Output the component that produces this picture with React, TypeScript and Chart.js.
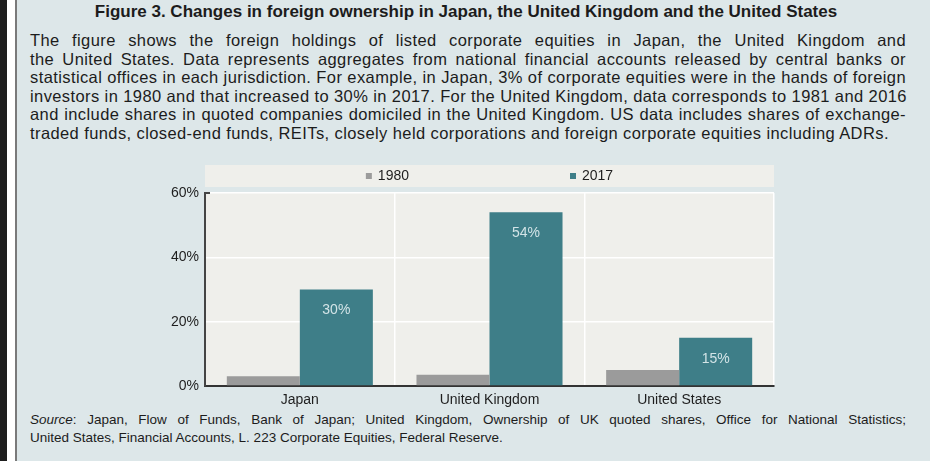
import React, { useEffect, useRef } from "react";
import { Chart, registerables } from "chart.js";

Chart.register(...registerables);

const categories = ["Japan", "United Kingdom", "United States"];
const series1980 = [3, 3.5, 5];
const series2017 = [30, 54, 15];
const seriesNames = ["1980", "2017"];
const yTicks = [0, 20, 40, 60];

const titleText =
  "Figure 3. Changes in foreign ownership in Japan, the United Kingdom and the United States";
const paragraphLines = [
  "The figure shows the foreign holdings of listed corporate equities in Japan, the United Kingdom and",
  "the United States. Data represents aggregates from national financial accounts released by central banks or",
  "statistical offices in each jurisdiction. For example, in Japan, 3% of corporate equities were in the hands of foreign",
  "investors in 1980 and that increased to 30% in 2017. For the United Kingdom, data corresponds to 1981 and 2016",
  "and include shares in quoted companies domiciled in the United Kingdom. US data includes shares of exchange-",
  "traded funds, closed-end funds, REITs, closely held corporations and foreign corporate equities including ADRs.",
];
const sourceLine1 =
  ": Japan, Flow of Funds, Bank of Japan; United Kingdom, Ownership of UK quoted shares, Office for National Statistics;";
const sourceLine2 =
  "United States, Financial Accounts, L. 223 Corporate Equities, Federal Reserve.";

const FONT = "'Liberation Sans', Arial, sans-serif";
const GREY = "#9b9b9b";
const TEAL = "#3e7e88";
const PANEL = "#dde7e9";
const PLOT_BG = "#efefeb";

const plotBgPlugin = {
  id: "plotBg",
  beforeDraw(chart: any) {
    const { ctx, chartArea } = chart;
    ctx.save();
    ctx.fillStyle = PLOT_BG;
    ctx.fillRect(chartArea.left, chartArea.top, chartArea.right - chartArea.left, chartArea.bottom - chartArea.top);
    ctx.fillRect(chartArea.left, chartArea.top - 28, chartArea.right - chartArea.left, 22);
    ctx.restore();
  },
  afterDraw(chart: any) {
    const { ctx, chartArea } = chart;
    ctx.save();
    ctx.font = `14px ${FONT}`;
    ctx.textBaseline = "middle";
    const colors = [GREY, TEAL];
    const box = 6;
    const gapText = 6;
    const gapItems = 161;
    const widths = seriesNames.map((n) => box + gapText + ctx.measureText(n).width);
    const total = widths[0] + gapItems + widths[1];
    const cx = (chartArea.left + chartArea.right) / 2;
    let x = cx - total / 2;
    const y = chartArea.top - 17;
    seriesNames.forEach((n, i) => {
      ctx.fillStyle = colors[i];
      ctx.fillRect(x, y - box / 2, box, box);
      ctx.fillStyle = "#1e1e1e";
      ctx.fillText(n, x + box + gapText, y);
      x += widths[i] + gapItems;
    });
    const yScale = chart.scales.y;
    const yTop = yScale.getPixelForValue(yTicks[yTicks.length - 1]);
    ctx.strokeStyle = "#444";
    ctx.lineWidth = 2;
    ctx.beginPath();
    ctx.moveTo(chartArea.left - 1, yTop);
    ctx.lineTo(chartArea.left + 5, yTop);
    ctx.stroke();
    ctx.restore();
  },
  afterDatasetsDraw(chart: any) {
    const { ctx } = chart;
    const meta = chart.getDatasetMeta(1);
    ctx.save();
    ctx.font = `14px ${FONT}`;
    ctx.fillStyle = "#d3e4e7";
    ctx.textAlign = "center";
    ctx.textBaseline = "middle";
    meta.data.forEach((bar: any, i: number) => {
      ctx.fillText(`${series2017[i]}%`, bar.x, bar.y + 21);
    });
    ctx.restore();
  },
};

function BarChart() {
  const ref = useRef<HTMLCanvasElement | null>(null);
  useEffect(() => {
    if (!ref.current) return;
    const chart = new Chart(ref.current, {
      type: "bar",
      data: {
        labels: categories,
        datasets: [
          { label: seriesNames[0], data: series1980, backgroundColor: GREY, categoryPercentage: 0.77, barPercentage: 1 },
          { label: seriesNames[1], data: series2017, backgroundColor: TEAL, categoryPercentage: 0.77, barPercentage: 1 },
        ],
      },
      options: {
        animation: false,
        responsive: false,
        devicePixelRatio: 1,
        layout: { padding: { top: 35, right: 16, left: 0, bottom: 0 } },
        plugins: { legend: { display: false }, tooltip: { enabled: false } },
        scales: {
          x: {
            grid: { color: "#ffffff", lineWidth: 1.5, drawTicks: false, offset: true },
            border: { color: "#333", width: 2 },
            ticks: { color: "#1e1e1e", font: { family: FONT, size: 14 }, padding: 6 },
            afterFit: (s: any) => { s.height = 22; },
          },
          y: {
            min: 0,
            max: 60,
            afterBuildTicks: (s: any) => { s.ticks = yTicks.map((v) => ({ value: v })); },
            grid: { color: "#ffffff", lineWidth: 1.5, drawTicks: false },
            border: { color: "#444", width: 2 },
            ticks: { color: "#1e1e1e", font: { family: FONT, size: 14 }, padding: 6, callback: (v: any) => `${v}%` },
            afterFit: (s: any) => { s.width = 55; },
          },
        },
      },
      plugins: [plotBgPlugin],
    });
    return () => chart.destroy();
  }, []);
  return (
    <canvas
      ref={ref}
      width={640}
      height={250}
      style={{ position: "absolute", left: 150, top: 158, width: 640, height: 250 }}
    />
  );
}

export default function App() {
  const lineStyle = (last: boolean): React.CSSProperties => ({
    whiteSpace: "nowrap",
    textAlign: "justify",
    textAlignLast: last ? "left" : "justify",
    height: 18.5,
    lineHeight: "18.5px",
  });
  return (
    <div
      style={{
        position: "absolute",
        left: 0,
        top: 0,
        width: 930,
        height: 461,
        background: PANEL,
        overflow: "hidden",
        fontFamily: FONT,
        color: "#1c1c1c",
      }}
    >
      <div style={{ position: "absolute", left: 0, top: 0, width: 7, height: 461, background: "#1e1e1e" }} />
      <div style={{ position: "absolute", left: 7, top: 0, width: 8, height: 461, background: "#ffffff" }} />
      <div style={{ position: "absolute", left: 15, top: 0, width: 2, height: 461, background: "#7a7a7a" }} />
      <div
        style={{
          position: "absolute",
          left: 17,
          width: 898,
          top: 2,
          textAlign: "center",
          fontWeight: "bold",
          fontSize: 17,
          lineHeight: "20px",
          whiteSpace: "nowrap",
        }}
      >
        {titleText}
      </div>
      <div style={{ position: "absolute", left: 30, width: 876, top: 31, fontSize: 16.5, letterSpacing: 0.4 }}>
        {paragraphLines.map((l, i) => (
          <div key={i} style={lineStyle(i === paragraphLines.length - 1)}>
            {l}
          </div>
        ))}
      </div>
      <BarChart />
      <div style={{ position: "absolute", left: 30, width: 876, top: 411, fontSize: 13.5 }}>
        <div style={{ ...lineStyle(false), height: 18, lineHeight: "18px" }}>
          <i>Source</i>
          {sourceLine1}
        </div>
        <div style={{ ...lineStyle(true), height: 18, lineHeight: "18px" }}>{sourceLine2}</div>
      </div>
    </div>
  );
}
